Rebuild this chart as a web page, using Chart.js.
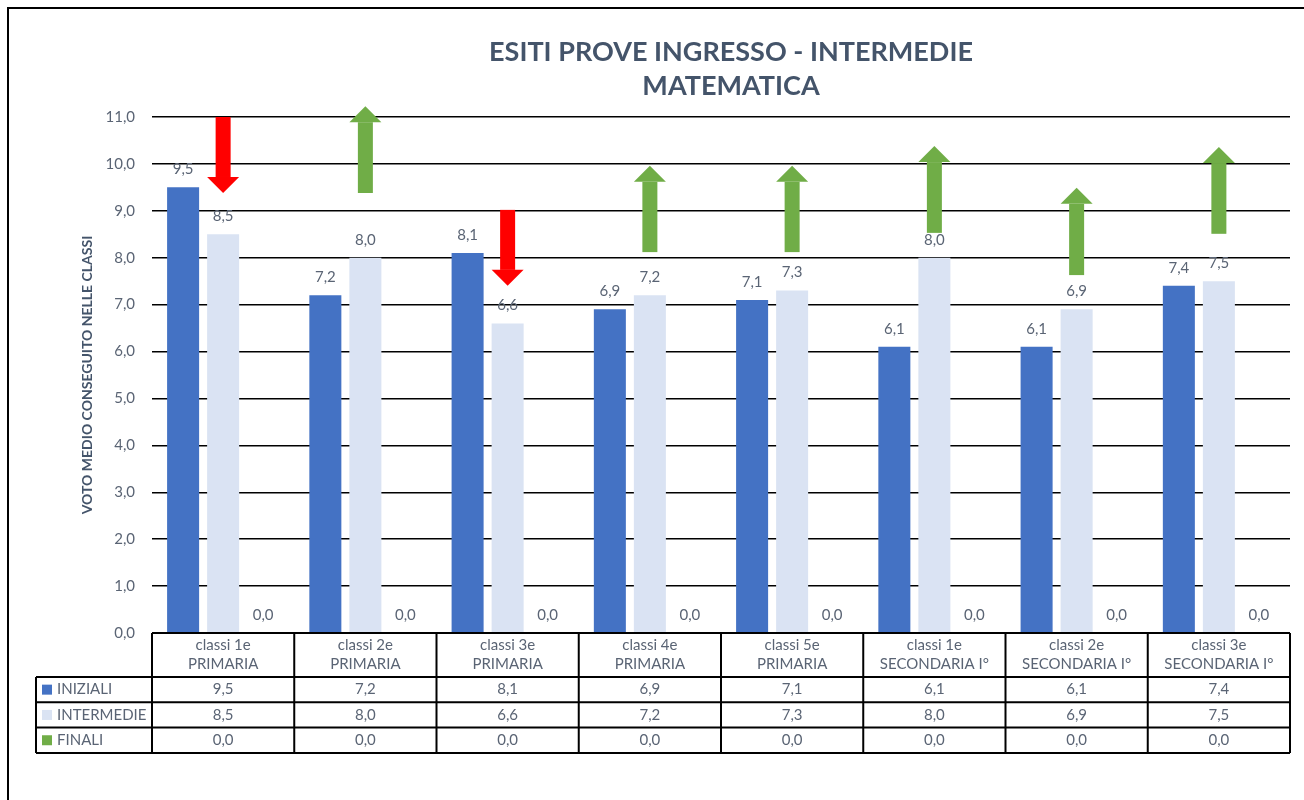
<!DOCTYPE html>
<html>
<head>
<meta charset="utf-8">
<script src="https://cdn.jsdelivr.net/npm/chart.js@4.4.0/dist/chart.umd.min.js"></script>
<style>
  body { margin: 0; background: #fff; }
  canvas { display: block; }
</style>
</head>
<body>
<canvas id="myChart" width="1304" height="800"></canvas>
<script>
const titleLines = ["ESITI PROVE INGRESSO - INTERMEDIE", "MATEMATICA"];
const yTitle = "VOTO MEDIO CONSEGUITO NELLE CLASSI";

const categories = [
  ["classi 1e", "PRIMARIA"],
  ["classi 2e", "PRIMARIA"],
  ["classi 3e", "PRIMARIA"],
  ["classi 4e", "PRIMARIA"],
  ["classi 5e", "PRIMARIA"],
  ["classi 1e", "SECONDARIA I°"],
  ["classi 2e", "SECONDARIA I°"],
  ["classi 3e", "SECONDARIA I°"],
];
const seriesNames = ["INIZIALI", "INTERMEDIE", "FINALI"];
const iniziali = [9.5, 7.2, 8.1, 6.9, 7.1, 6.1, 6.1, 7.4];
const intermedie = [8.5, 8.0, 6.6, 7.2, 7.3, 8.0, 6.9, 7.5];
const finali = [0, 0, 0, 0, 0, 0, 0, 0];

// arrows: value where the arrow starts and value where its tip is
const arrowFrom = [11.0, 9.38, 9.02, 8.12, 8.12, 8.53, 7.63, 8.51];
const arrowTo = [9.38, 11.23, 7.40, 9.96, 9.96, 10.38, 9.49, 10.36];

const yTicks = [0, 1, 2, 3, 4, 5, 6, 7, 8, 9, 10, 11];

const colors = ["#4472C4", "#DAE3F3", "#70AD47"];
const textColor = "#5A6474";
const titleColor = "#44546A";
const font = "Lato";

const fmt = (v) => v.toFixed(1).replace(".", ",");

function drawArrow(c, cx, y0, y1, color) {
  const dir = Math.sign(y1 - y0);
  const head = 16;
  c.fillStyle = color;
  c.fillRect(cx - 7.5, Math.min(y0, y1 - dir * head), 15, Math.abs(y1 - dir * head - y0));
  c.beginPath();
  c.moveTo(cx - 16, y1 - dir * head);
  c.lineTo(cx + 16, y1 - dir * head);
  c.lineTo(cx, y1);
  c.closePath();
  c.fill();
}

const extras = {
  id: "extras",
  afterDraw(chart) {
    const c = chart.ctx;
    const y = chart.scales.y;
    const x = chart.scales.x;
    const area = chart.chartArea;
    const colW = (area.right - area.left) / categories.length;
    c.save();

    // frame
    c.strokeStyle = "#000";
    c.lineWidth = 2;
    c.beginPath();
    c.moveTo(8, 800);
    c.lineTo(8, 8);
    c.lineTo(1304, 8);
    c.stroke();

    // title
    c.fillStyle = titleColor;
    c.font = "bold 27px " + font;
    c.textAlign = "center";
    c.textBaseline = "middle";
    c.fillText(titleLines[0], 731, 52);
    c.fillText(titleLines[1], 731, 86);

    // value labels above bars
    c.font = "15px " + font;
    c.fillStyle = textColor;
    chart.data.datasets.forEach((ds, i) => {
      chart.getDatasetMeta(i).data.forEach((bar, j) => {
        c.fillText(fmt(ds.data[j]), bar.x, bar.y - 18);
      });
    });

    // arrows
    categories.forEach((cat, j) => {
      const cx = x.getPixelForValue(j);
      const col = arrowTo[j] < arrowFrom[j] ? "#FF0000" : "#70AD47";
      drawArrow(c, cx, y.getPixelForValue(arrowFrom[j]), y.getPixelForValue(arrowTo[j]), col);
    });

    // data table
    const top = area.bottom;
    const headH = 44;
    const rowH = 25.3;
    const tableLeft = 36;
    const bottom = top + headH + rowH * 3;
    c.strokeStyle = "#000";
    c.lineWidth = 2;
    c.beginPath();
    c.moveTo(area.left, top);
    c.lineTo(area.right, top);
    for (let r = 0; r <= 3; r++) {
      c.moveTo(tableLeft, top + headH + r * rowH);
      c.lineTo(area.right, top + headH + r * rowH);
    }
    for (let k = 0; k <= categories.length; k++) {
      c.moveTo(area.left + k * colW, top);
      c.lineTo(area.left + k * colW, bottom);
    }
    c.moveTo(tableLeft, top + headH);
    c.lineTo(tableLeft, bottom);
    c.stroke();

    c.font = "15px " + font;
    c.fillStyle = textColor;
    categories.forEach((cat, j) => {
      const cx = area.left + (j + 0.5) * colW;
      c.fillText(cat[0], cx, top + 12);
      c.fillText(cat[1], cx, top + 31);
    });
    const rows = [iniziali, intermedie, finali];
    rows.forEach((vals, r) => {
      const cy = top + headH + (r + 0.5) * rowH;
      c.fillStyle = colors[r];
      c.fillRect(tableLeft + 6, cy - 5, 10, 10);
      c.fillStyle = textColor;
      c.textAlign = "left";
      c.fillText(seriesNames[r], tableLeft + 21, cy);
      c.textAlign = "center";
      vals.forEach((v, j) => {
        c.fillText(fmt(v), area.left + (j + 0.5) * colW, cy);
      });
    });

    c.restore();
  },
};

const ctx = document.getElementById("myChart");

const myChart = new Chart(ctx, {
  type: "bar",
  data: {
    labels: categories,
    datasets: [
      { label: seriesNames[0], data: iniziali, backgroundColor: colors[0] },
      { label: seriesNames[1], data: intermedie, backgroundColor: colors[1] },
      { label: seriesNames[2], data: finali, backgroundColor: colors[2] },
    ],
  },
  options: {
    responsive: false,
    animation: false,
    categoryPercentage: 0.844,
    barPercentage: 0.8,
    layout: {
      padding: { top: 117, right: 14, bottom: 167, left: 0 },
    },
    plugins: {
      legend: false,
      tooltip: { enabled: false },
    },
    scales: {
      x: { display: false },
      y: {
        min: 0,
        max: 11,
        afterFit(scale) {
          scale.width = 152;
        },
        afterBuildTicks(scale) {
          scale.ticks = yTicks.map((v) => ({ value: v }));
        },
        ticks: {
          padding: 17,
          color: textColor,
          font: { family: font, size: 15 },
          callback: (v) => fmt(v),
        },
        grid: { color: "#000", lineWidth: 1.5, drawTicks: false },
        border: { display: false },
        title: {
          display: true,
          text: yTitle,
          color: titleColor,
          font: { family: font, size: 14, weight: "bold" },
          padding: { top: 79, bottom: 0 },
        },
      },
    },
  },
  plugins: [extras],
});
</script>
</body>
</html>
